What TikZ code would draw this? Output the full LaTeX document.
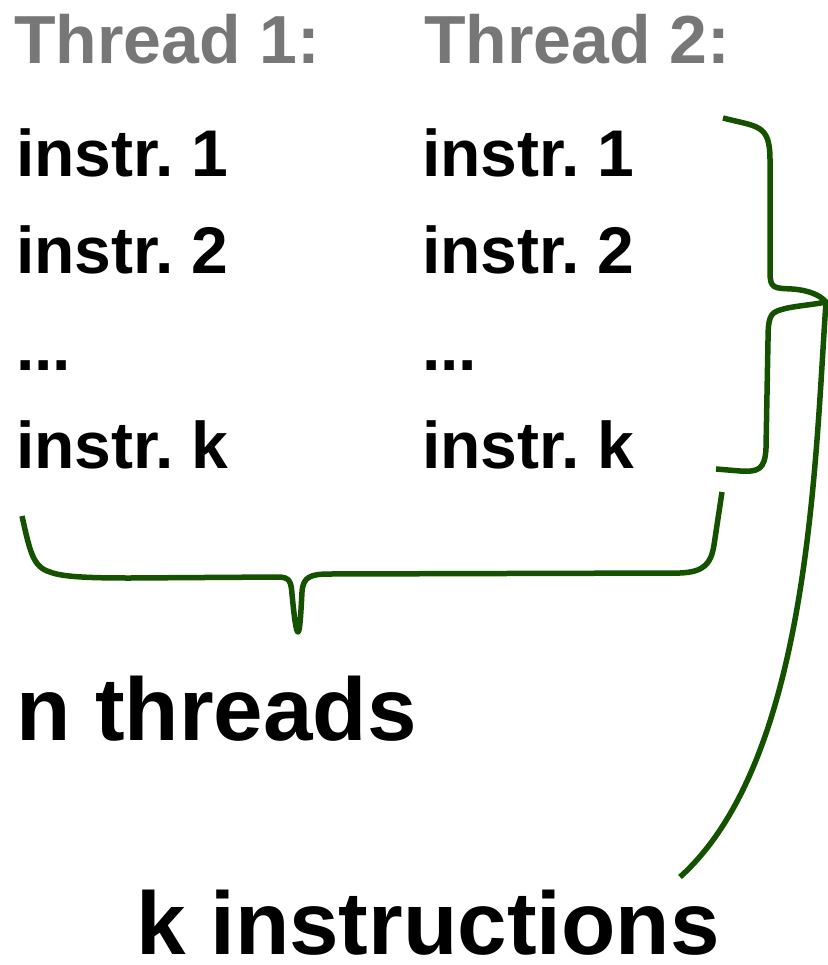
\documentclass[tikz,border=0pt]{standalone}
\usepackage{fontspec}
\setmainfont{Liberation Sans}
\definecolor{bracegreen}{HTML}{145200}
\definecolor{headgray}{HTML}{777777}
\begin{document}
\begin{tikzpicture}[x=1pt,y=-1pt,
  lbl/.style={anchor=base west,inner sep=0pt,font=\fontsize{66}{70}\selectfont\bfseries},
  head/.style={anchor=base west,inner sep=0pt,font=\fontsize{68}{72}\selectfont\bfseries,text=headgray},
  big/.style={anchor=base west,inner sep=0pt,font=\fontsize{89}{94}\selectfont\bfseries},
  brace/.style={draw=bracegreen,line width=5.5pt,line cap=butt,line join=round}]
\useasboundingbox (0,0) rectangle (827,965);
\node[head] (h1) at (14,64) {Thread 1:};
\node[head] (h2) at (424,64) {Thread 2:};
\node[lbl] (a1) at (16,177) {instr.\kern-1pt\ 1};
\node[lbl] (a2) at (16,273) {instr.\kern-1pt\ 2};
\node[lbl] (a3) at (16,370) {...};
\node[lbl] (a4) at (16,468) {instr.\kern-1pt\ k};
\node[lbl] (b1) at (422,177) {instr.\kern-1pt\ 1};
\node[lbl] (b2) at (422,273) {instr.\kern-1pt\ 2};
\node[lbl] (b3) at (422,370) {...};
\node[lbl] (b4) at (422,468) {instr.\kern-1pt\ k};
\node[big] (nt) at (16,740) {n threads};
\node[big] (ki) at (136,954) {k instructions};
% right brace
\coordinate (rtop) at (723,118);
\coordinate (rtip) at (826,302);
\coordinate (rbot) at (716,469);
\draw[brace] (rtop) .. controls (758,127) and (770,124) .. (770,160)
  -- (770,272)
  .. controls (770,289) and (774,288) .. (792,289)
  .. controls (808,290) and (820,295) .. (rtip)
  .. controls (812,305) and (792,306) .. (780,310)
  .. controls (770,313) and (768,318) .. (768,340)
  -- (766,448)
  .. controls (765,470) and (758,472) .. (740,471)
  -- (rbot);
% bottom brace
\coordinate (bl) at (22,516);
\coordinate (btip) at (298,632);
\coordinate (br) at (722,492);
\draw[brace] (bl) .. controls (30,552) and (33,567) .. (50,572)
  .. controls (62,577) and (90,578) .. (130,578)
  -- (278,577)
  .. controls (290,577) and (291,582) .. (292,594)
  .. controls (294,615) and (296,632) .. (btip)
  .. controls (300,632) and (301,610) .. (302,592)
  .. controls (303,577) and (310,574) .. (330,574)
  -- (680,573)
  .. controls (705,572) and (711,563) .. (714,545)
  -- (br);
% long arc
\coordinate (aend) at (680,877);
\draw[brace] (rtip) .. controls (815,460) and (810,760) .. (aend);
\end{tikzpicture}
\end{document}
